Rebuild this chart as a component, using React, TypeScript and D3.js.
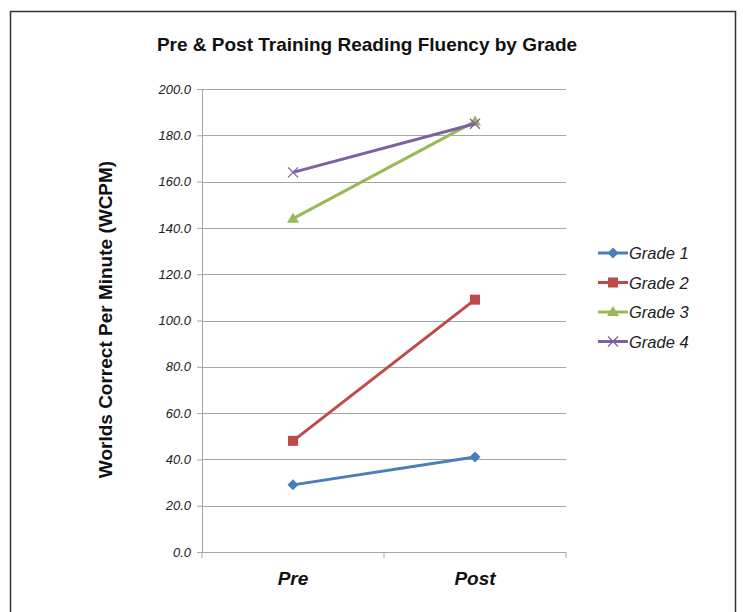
import React, { useEffect, useRef } from 'react';
import * as d3 from 'd3';

const categories = ['Pre', 'Post'];
const seriesNames = ['Grade 1', 'Grade 2', 'Grade 3', 'Grade 4'];
const grade1 = [29, 41];
const grade2 = [48, 109];
const grade3 = [144, 186];
const grade4 = [164, 185];
const yTicks = [0, 20, 40, 60, 80, 100, 120, 140, 160, 180, 200];

const colors = ['#4a7ebb', '#be4b48', '#98b954', '#7d60a0'];
const shapes = ['diamond', 'square', 'triangle', 'cross'];

const W = 743;
const H = 612;
const FONT = 'Liberation Sans, Arial, sans-serif';

export default function App() {
  const svgRef = useRef<SVGSVGElement | null>(null);

  useEffect(() => {
    const svg = d3.select(svgRef.current);
    svg.selectAll('*').remove();

    const margin = { top: 89, left: 202, right: 177, bottom: 60 };
    const innerW = W - margin.left - margin.right;
    const innerH = H - margin.top - margin.bottom;
    const series = [grade1, grade2, grade3, grade4];

    // outer frame
    svg.append('rect')
      .attr('x', 10.5).attr('y', 11.5)
      .attr('width', 725).attr('height', 620)
      .attr('fill', 'white').attr('stroke', '#333').attr('stroke-width', 1.5);

    svg.append('text')
      .attr('x', 367).attr('y', 51)
      .attr('text-anchor', 'middle')
      .attr('font-family', FONT)
      .attr('font-weight', 'bold').attr('font-size', 19)
      .attr('fill', '#111')
      .text('Pre & Post Training Reading Fluency by Grade');

    const x = d3.scaleBand().domain(categories).range([0, innerW]);
    const y = d3.scaleLinear().domain([0, 200]).range([innerH, 0]);

    const g = svg.append('g').attr('transform', `translate(${margin.left},${margin.top})`);

    // gridlines
    g.selectAll('.grid').data(yTicks.filter(t => t > 0)).enter().append('line')
      .attr('x1', 0).attr('x2', innerW)
      .attr('y1', d => Math.round(y(d)) + 0.5).attr('y2', d => Math.round(y(d)) + 0.5)
      .attr('stroke', '#a6a6a6').attr('stroke-width', 1);

    // y axis
    const yAxis = g.append('g').call(d3.axisLeft(y).tickValues(yTicks).tickSize(5).tickFormat(d3.format('.1f')));
    yAxis.select('.domain').attr('stroke', '#a6a6a6');
    yAxis.selectAll('line').attr('stroke', '#a6a6a6');
    yAxis.selectAll('text')
      .attr('font-family', FONT)
      .attr('font-style', 'italic').attr('font-size', 13).attr('fill', '#222')
      .attr('dx', -3);

    // x axis
    const xAxis = g.append('g').attr('transform', `translate(0,${innerH})`);
    xAxis.append('line').attr('x1', 0).attr('x2', innerW).attr('y1', 0.5).attr('y2', 0.5)
      .attr('stroke', '#a6a6a6');
    const bounds = [0, ...categories.map(c => (x(c) as number) + x.bandwidth())];
    xAxis.selectAll('.xt').data(bounds).enter().append('line')
      .attr('x1', d => d).attr('x2', d => d).attr('y1', 0).attr('y2', 6)
      .attr('stroke', '#a6a6a6');
    xAxis.selectAll('.xl').data(categories).enter().append('text')
      .attr('x', d => (x(d) as number) + x.bandwidth() / 2)
      .attr('y', 33)
      .attr('text-anchor', 'middle')
      .attr('font-family', FONT)
      .attr('font-style', 'italic').attr('font-weight', 'bold').attr('font-size', 19)
      .attr('fill', '#111')
      .text(d => d);

    // y label
    svg.append('text')
      .attr('transform', `translate(112,${margin.top + innerH / 2 - 1}) rotate(-90)`)
      .attr('text-anchor', 'middle')
      .attr('font-family', FONT)
      .attr('font-weight', 'bold').attr('font-size', 19)
      .attr('fill', '#111')
      .text('Worlds Correct Per Minute (WCPM)');

    const drawMarker = (sel: any, shape: string, color: string, cx: number, cy: number) => {
      if (shape === 'diamond') {
        sel.append('path').attr('d', `M${cx},${cy - 5.5}L${cx + 5.5},${cy}L${cx},${cy + 5.5}L${cx - 5.5},${cy}Z`)
          .attr('fill', color);
      } else if (shape === 'square') {
        sel.append('rect').attr('x', cx - 5).attr('y', cy - 5).attr('width', 10).attr('height', 10)
          .attr('fill', color);
      } else if (shape === 'triangle') {
        sel.append('path').attr('d', `M${cx},${cy - 6}L${cx + 6},${cy + 4}L${cx - 6},${cy + 4}Z`)
          .attr('fill', color);
      } else {
        sel.append('path').attr('d', `M${cx - 5},${cy - 5}L${cx + 5},${cy + 5}M${cx - 5},${cy + 5}L${cx + 5},${cy - 5}`)
          .attr('stroke', color).attr('stroke-width', 1.3).attr('fill', 'none');
      }
    };

    const line = d3.line<number>()
      .x((_, i) => (x(categories[i]) as number) + x.bandwidth() / 2)
      .y(d => y(d));

    series.forEach((vals, si) => {
      g.append('path').datum(vals)
        .attr('d', line)
        .attr('fill', 'none')
        .attr('stroke', colors[si])
        .attr('stroke-width', 3);
      vals.forEach((v, i) => {
        drawMarker(g, shapes[si], colors[si], (x(categories[i]) as number) + x.bandwidth() / 2, y(v));
      });
    });

    // legend
    const lg = svg.append('g').attr('transform', 'translate(598,253)');
    seriesNames.forEach((name, i) => {
      const row = lg.append('g').attr('transform', `translate(0,${i * 29.5})`);
      row.append('line').attr('x1', 0).attr('x2', 30).attr('y1', 0).attr('y2', 0)
        .attr('stroke', colors[i]).attr('stroke-width', 3);
      drawMarker(row, shapes[i], colors[i], 15, 0);
      row.append('text').attr('x', 31).attr('y', 6)
        .attr('font-family', FONT)
        .attr('font-style', 'italic').attr('font-size', 16.5)
        .attr('fill', '#222')
        .text(name);
    });
  }, []);

  return (
    <div style={{ position: 'fixed', left: 0, top: 0, width: W, height: H, background: 'white' }}>
      <svg ref={svgRef} width={W} height={H}></svg>
    </div>
  );
}
